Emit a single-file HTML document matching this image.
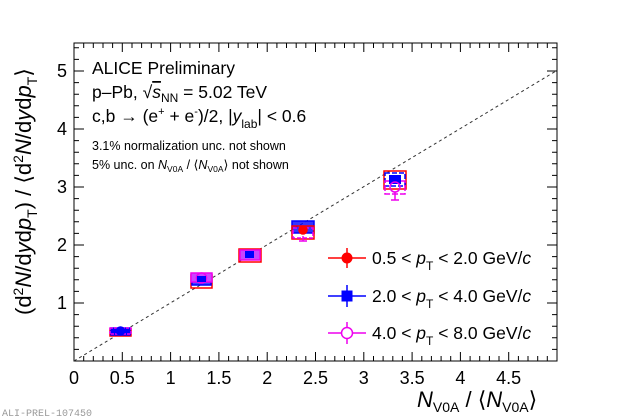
<!DOCTYPE html>
<html><head><meta charset="utf-8"><style>
html,body{margin:0;padding:0;background:#fff;}
svg{display:block;font-family:"Liberation Sans",sans-serif;}
</style></head><body>
<svg width="620" height="420" viewBox="0 0 620 420" xmlns="http://www.w3.org/2000/svg">
<rect x="0" y="0" width="620" height="420" fill="#fff"/>
<rect x="74" y="43" width="483" height="318" fill="none" stroke="#000" stroke-width="1"/>
<g stroke="#000" stroke-width="1">
<path d="M74 361v-9M122.3 361v-9M170.6 361v-9M218.9 361v-9M267.2 361v-9M315.5 361v-9M363.8 361v-9M412.1 361v-9M460.4 361v-9M508.7 361v-9
M74 43v9M122.3 43v9M170.6 43v9M218.9 43v9M267.2 43v9M315.5 43v9M363.8 43v9M412.1 43v9M460.4 43v9M508.7 43v9"/>
</g>
<line x1="74" y1="361" x2="556" y2="71" stroke="#333" stroke-width="1" stroke-dasharray="3,3"/>
<g font-size="18" fill="#000" text-anchor="middle">
<text x="74" y="384">0</text><text x="122.3" y="384">0.5</text><text x="170.6" y="384">1</text>
<text x="218.9" y="384">1.5</text><text x="267.2" y="384">2</text><text x="315.5" y="384">2.5</text>
<text x="363.8" y="384">3</text><text x="412.1" y="384">3.5</text><text x="460.4" y="384">4</text><text x="508.7" y="384">4.5</text>
</g>
<g font-size="18" fill="#000" text-anchor="end">
<text x="67" y="309">1</text><text x="67" y="251">2</text><text x="67" y="193">3</text><text x="67" y="135">4</text><text x="67" y="77">5</text>
</g>
<g fill="#000">
<text x="92" y="74" font-size="17.5">ALICE Preliminary</text>
<text x="92" y="98" font-size="17.5">p–Pb, √<tspan font-style="italic" text-decoration="overline">s</tspan><tspan font-size="12" dy="4">NN</tspan><tspan dy="-4"> = 5.02 TeV</tspan></text>
<text x="92" y="122" font-size="17.5">c,b → (e<tspan font-size="11" dy="-7">+</tspan><tspan dy="7"> + e</tspan><tspan font-size="11" dy="-7">-</tspan><tspan dy="7">)/2, |</tspan><tspan font-style="italic">y</tspan><tspan font-size="12" dy="6">lab</tspan><tspan dy="-6">| &lt; 0.6</tspan></text>
<text x="92" y="150" font-size="12.5">3.1% normalization unc. not shown</text>
<text x="92" y="169" font-size="12.5">5% unc. on  <tspan font-style="italic">N</tspan><tspan font-size="8.5" dy="3">V0A</tspan><tspan dy="-3"> / ⟨</tspan><tspan font-style="italic">N</tspan><tspan font-size="8.5" dy="3">V0A</tspan><tspan dy="-3">⟩  not shown</tspan></text>
</g>
<text x="417" y="407" font-size="22" fill="#000"><tspan font-style="italic">N</tspan><tspan font-size="14" dy="5">V0A</tspan><tspan dy="-5"> / ⟨</tspan><tspan font-style="italic">N</tspan><tspan font-size="14" dy="5">V0A</tspan><tspan dy="-5">⟩</tspan></text>
<text transform="translate(31,315) rotate(-90)" font-size="22" fill="#000">(d<tspan font-size="14" dy="-8">2</tspan><tspan dy="8" font-style="italic">N</tspan><tspan>/d</tspan><tspan font-style="italic">y</tspan><tspan>d</tspan><tspan font-style="italic">p</tspan><tspan font-size="14" dy="6">T</tspan><tspan dy="-6">) / ⟨d</tspan><tspan font-size="14" dy="-8">2</tspan><tspan dy="8" font-style="italic">N</tspan><tspan>/d</tspan><tspan font-style="italic">y</tspan><tspan>d</tspan><tspan font-style="italic">p</tspan><tspan font-size="14" dy="6">T</tspan><tspan dy="-6">⟩</tspan></text>
<text x="2" y="416" font-size="10" fill="#999" font-family="Liberation Mono,monospace">ALI-PREL-107450</text>
<g stroke-width="1.5" fill="none">
<rect x="110" y="329" width="21" height="7" stroke="#f00"/>
<rect x="111" y="328" width="19" height="7" stroke="#00f" fill="#00f"/>
<rect x="110" y="328" width="21" height="6" stroke="#e0e" stroke-dasharray="3,1"/>
<circle cx="120.5" cy="331" r="4" fill="#00f" stroke="#00f"/>
<rect x="191" y="275" width="21" height="13" stroke="#f00"/>
<rect x="192" y="275" width="19" height="10" stroke="#00f" fill="#44f"/>
<rect x="191" y="273" width="21" height="9" stroke="#e0e" fill="#c4f"/>
<circle cx="201.5" cy="278" r="5" stroke="#e0e" fill="none"/>
<rect x="197" y="276" width="9" height="6" fill="#00f" stroke="none"/>
<rect x="239" y="249" width="22" height="13" stroke="#f00"/>
<rect x="240" y="250" width="20" height="10" stroke="#e0e" fill="#c4f"/>
<rect x="245" y="251" width="9" height="7" fill="#00f" stroke="none"/>
<rect x="292" y="221" width="22" height="12" stroke="#00f" fill="#00f" fill-opacity="0.8"/>
<rect x="292" y="226" width="22" height="13" stroke="#f00"/>
<rect x="293" y="228" width="20" height="10" stroke="#e0e" stroke-dasharray="4,2"/>
<circle cx="303" cy="230" r="4" fill="#f00" stroke="#f00"/>
<line x1="303" y1="236" x2="303" y2="241" stroke="#e0e"/>
<line x1="299" y1="241" x2="307" y2="241" stroke="#e0e"/>
<rect x="384" y="171" width="22" height="18" stroke="#f00"/>
<rect x="385" y="173" width="20" height="13" stroke="#00f" stroke-dasharray="5,2"/>
<rect x="385" y="181" width="20" height="13" stroke="#e0e" stroke-dasharray="6,2"/>
<rect x="389" y="175" width="12" height="9" fill="#00f" stroke="none"/>
<circle cx="395" cy="187" r="5" stroke="#e0e"/>
<line x1="395" y1="192" x2="395" y2="200" stroke="#e0e"/>
<line x1="391" y1="200" x2="399" y2="200" stroke="#e0e"/>
</g>
<g stroke-width="1.5">
<line x1="328" y1="258" x2="366" y2="258" stroke="#f00"/><line x1="347" y1="248" x2="347" y2="268" stroke="#f00"/><circle cx="347" cy="258" r="5.5" fill="#f00"/>
<line x1="328" y1="296" x2="366" y2="296" stroke="#00f"/><line x1="347" y1="285" x2="347" y2="307" stroke="#00f"/><rect x="341.5" y="290.5" width="11" height="11" fill="#00f"/>
<line x1="328" y1="333" x2="366" y2="333" stroke="#e0e"/><line x1="347" y1="322" x2="347" y2="344" stroke="#e0e"/><circle cx="347" cy="333" r="5.5" fill="#fff" stroke="#e0e"/>
</g>
<g font-size="17.5" fill="#000">
<text x="372" y="264">0.5 &lt; <tspan font-style="italic">p</tspan><tspan font-size="12" dy="6">T</tspan><tspan dy="-6"> &lt; 2.0 GeV/</tspan><tspan font-style="italic">c</tspan></text>
<text x="372" y="302">2.0 &lt; <tspan font-style="italic">p</tspan><tspan font-size="12" dy="6">T</tspan><tspan dy="-6"> &lt; 4.0 GeV/</tspan><tspan font-style="italic">c</tspan></text>
<text x="372" y="339">4.0 &lt; <tspan font-style="italic">p</tspan><tspan font-size="12" dy="6">T</tspan><tspan dy="-6"> &lt; 8.0 GeV/</tspan><tspan font-style="italic">c</tspan></text>
</g>
<g stroke="#000" stroke-width="1">
<path d="M83.7 361v-5M93.3 361v-5M103 361v-5M112.6 361v-5M132 361v-5M141.6 361v-5M151.3 361v-5M160.9 361v-5M180.3 361v-5M189.9 361v-5M199.6 361v-5M209.2 361v-5M228.6 361v-5M238.2 361v-5M247.9 361v-5M257.5 361v-5M276.9 361v-5M286.5 361v-5M296.2 361v-5M305.8 361v-5M325.2 361v-5M334.8 361v-5M344.5 361v-5M354.1 361v-5M373.5 361v-5M383.1 361v-5M392.8 361v-5M402.4 361v-5M421.8 361v-5M431.4 361v-5M441.1 361v-5M450.7 361v-5M470.1 361v-5M479.7 361v-5M489.4 361v-5M499 361v-5M518.4 361v-5M528 361v-5M537.7 361v-5M547.3 361v-5"/>
<path d="M83.7 43v5M93.3 43v5M103 43v5M112.6 43v5M132 43v5M141.6 43v5M151.3 43v5M160.9 43v5M180.3 43v5M189.9 43v5M199.6 43v5M209.2 43v5M228.6 43v5M238.2 43v5M247.9 43v5M257.5 43v5M276.9 43v5M286.5 43v5M296.2 43v5M305.8 43v5M325.2 43v5M334.8 43v5M344.5 43v5M354.1 43v5M373.5 43v5M383.1 43v5M392.8 43v5M402.4 43v5M421.8 43v5M431.4 43v5M441.1 43v5M450.7 43v5M470.1 43v5M479.7 43v5M489.4 43v5M499 43v5M518.4 43v5M528 43v5M537.7 43v5M547.3 43v5"/>
<path d="M74 303h10M74 245h10M74 187h10M74 129h10M74 71h10M557 303h-10M557 245h-10M557 187h-10M557 129h-10M557 71h-10"/>
<path d="M74 349.4h5M74 337.8h5M74 326.2h5M74 314.6h5M74 291.4h5M74 279.8h5M74 268.2h5M74 256.6h5M74 233.4h5M74 221.8h5M74 210.2h5M74 198.6h5M74 175.4h5M74 163.8h5M74 152.2h5M74 140.6h5M74 117.4h5M74 105.8h5M74 94.2h5M74 82.6h5M74 59.4h5M74 47.8h5"/>
<path d="M557 349.4h-5M557 337.8h-5M557 326.2h-5M557 314.6h-5M557 291.4h-5M557 279.8h-5M557 268.2h-5M557 256.6h-5M557 233.4h-5M557 221.8h-5M557 210.2h-5M557 198.6h-5M557 175.4h-5M557 163.8h-5M557 152.2h-5M557 140.6h-5M557 117.4h-5M557 105.8h-5M557 94.2h-5M557 82.6h-5M557 59.4h-5M557 47.8h-5"/>
</g>
</svg>
</body></html>
